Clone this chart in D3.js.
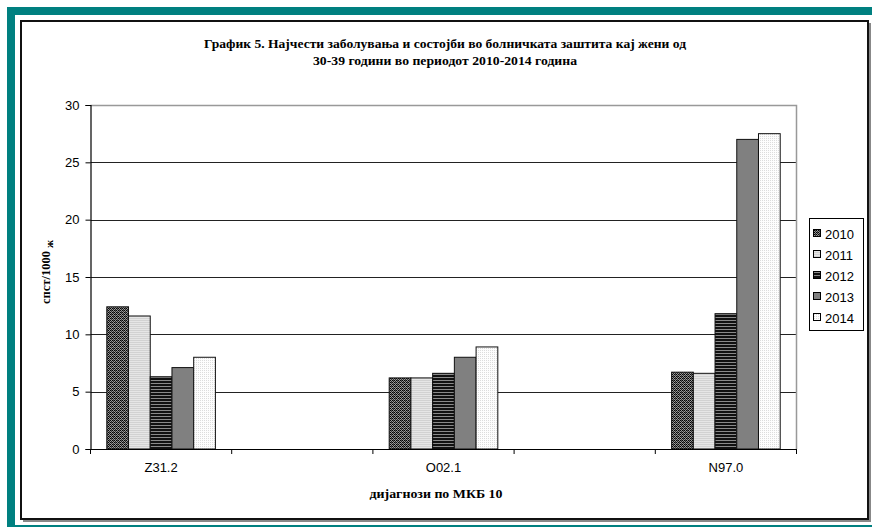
<!DOCTYPE html>
<html>
<head>
<meta charset="utf-8">
<script src="https://cdn.jsdelivr.net/npm/d3@7"></script>
<style>
  html, body { margin: 0; padding: 0; background: #fff; }
  svg { display: block; }
</style>
</head>
<body>
<svg id="chart" width="872" height="527"></svg>
<script>
// Categories on the x axis (Excel-style blank slots between the diagnoses)
const categories = ["Z31.2", "", "O02.1", "", "N97.0"];
const years = ["2010", "2011", "2012", "2013", "2014"];

// Rate per 1000 women, one array per year, aligned with categories
const v2010 = [12.4, null, 6.2, null, 6.7];
const v2011 = [11.6, null, 6.2, null, 6.6];
const v2012 = [6.3, null, 6.6, null, 11.8];
const v2013 = [7.1, null, 8.0, null, 27.0];
const v2014 = [8.0, null, 8.9, null, 27.5];
const seriesValues = [v2010, v2011, v2012, v2013, v2014];

const yTicks = [0, 5, 10, 15, 20, 25, 30];

const titleLines = [
  "График 5. Најчести заболувања и состојби во болничката заштита кај жени од",
  "30-39 години во периодот 2010-2014 година"
];
const yTitle = "спст/1000";
const yTitleSub = "ж";
const xTitle = "дијагнози по МКБ 10";

const svg = d3.select("#chart");
const defs = svg.append("defs");

// Fill patterns for the five series
function pattern(id, w, h, bg, cells) {
  const p = defs.append("pattern").attr("id", id)
    .attr("patternUnits", "userSpaceOnUse").attr("width", w).attr("height", h);
  p.append("rect").attr("width", w).attr("height", h).attr("fill", bg);
  cells.forEach(c => p.append("rect").attr("x", c[0]).attr("y", c[1])
    .attr("width", c[2]).attr("height", c[3]).attr("fill", c[4]));
}
pattern("p2010", 4, 4, "#9a9a9a", [[0,0,1,1,"#000"],[2,0,1,1,"#000"],[1,1,1,1,"#222"],[3,1,1,1,"#222"],[0,2,1,1,"#000"],[2,2,1,1,"#000"],[1,3,1,1,"#333"],[3,3,1,1,"#333"],[1,0,1,1,"#555"],[3,2,1,1,"#555"]]);
pattern("p2011", 2, 2, "#e6e6e6", [[0,0,2,1,"#d2d2d2"]]);
pattern("p2012", 3, 3, "#111", [[0,2,3,1,"#8a8a8a"]]);
pattern("p2013", 2, 2, "#808080", []);
pattern("p2014", 2, 2, "#fdfdfd", [[0,0,1,1,"#dcdcdc"]]);
const fills = years.map(y => `url(#p${y})`);

// Page frame: teal bands and black chart border with shadow
const teal = "#008080";
svg.append("rect").attr("x", 7).attr("y", 7).attr("width", 865).attr("height", 8).attr("fill", teal);
svg.append("rect").attr("x", 7).attr("y", 7).attr("width", 8).attr("height", 520).attr("fill", teal);
svg.append("rect").attr("x", 15).attr("y", 525).attr("width", 857).attr("height", 2).attr("fill", teal);
svg.append("rect").attr("x", 23).attr("y", 23).attr("width", 848).attr("height", 499).attr("fill", "#888");
svg.append("rect").attr("x", 21).attr("y", 21).attr("width", 847).attr("height", 498)
  .attr("fill", "#fff").attr("stroke", "#111").attr("stroke-width", 2);

// Plot area
const plotL = 90.5, plotR = 796.5, plotT = 105, plotB = 449;
const x0 = d3.scaleBand().domain(d3.range(categories.length)).range([plotL, plotR]).padding(0);
const bw = x0.bandwidth();
const barW = bw / 6.5;
const x1 = d3.scaleBand().domain(years).range([0.75 * barW, 5.75 * barW]).padding(0);
const y = d3.scaleLinear().domain([0, 30]).range([plotB, plotT]);

// Gridlines
svg.append("g").selectAll("line").data(yTicks.filter(t => t > 0 && t < 30)).join("line")
  .attr("x1", plotL).attr("x2", plotR)
  .attr("y1", d => Math.round(y(d)) + 0.5).attr("y2", d => Math.round(y(d)) + 0.5)
  .attr("stroke", "#222").attr("stroke-width", 1);
// Plot area top and right border
svg.append("path")
  .attr("d", `M${plotL},${plotT + 0.5}H${plotR}V${plotB}`)
  .attr("fill", "none").attr("stroke", "#999").attr("stroke-width", 1.5);

// Bars
const gBars = svg.append("g");
seriesValues.forEach((vals, si) => {
  gBars.append("g").selectAll("rect")
    .data(vals.map((v, ci) => ({ v, ci })).filter(d => d.v != null))
    .join("rect")
    .attr("x", d => x0(d.ci) + x1(years[si]))
    .attr("y", d => y(d.v))
    .attr("width", x1.bandwidth())
    .attr("height", d => plotB - y(d.v))
    .attr("fill", fills[si])
    .attr("stroke", "#111").attr("stroke-width", 1);
});

// Y axis
const yAxis = d3.axisLeft(y).tickValues(yTicks).tickSize(5).tickPadding(6);
const gy = svg.append("g").attr("transform", `translate(${plotL},0)`).call(yAxis);
gy.select(".domain").attr("stroke", "#000").attr("stroke-width", 1.2);
gy.selectAll(".tick line").attr("stroke", "#000");
gy.selectAll(".tick text").attr("font-family", "Liberation Sans, Arial, sans-serif")
  .attr("font-size", 13).attr("fill", "#000");

// X axis: ticks at category boundaries
svg.append("line").attr("x1", plotL).attr("x2", plotR).attr("y1", plotB + 0.5).attr("y2", plotB + 0.5)
  .attr("stroke", "#000").attr("stroke-width", 1.2);
const bounds = d3.range(categories.length + 1).map(i => i < categories.length ? x0(i) : plotR);
svg.append("g").selectAll("line").data(bounds).join("line")
  .attr("x1", d => d).attr("x2", d => d).attr("y1", plotB).attr("y2", plotB + 5)
  .attr("stroke", "#000");
svg.append("g").selectAll("text").data(categories.map((c, i) => ({ c, i })).filter(d => d.c)).join("text")
  .attr("x", d => x0(d.i) + bw / 2).attr("y", 472)
  .attr("text-anchor", "middle")
  .attr("font-family", "Liberation Sans, Arial, sans-serif").attr("font-size", 13)
  .text(d => d.c);

// Titles
const serif = "Liberation Serif, Times New Roman, serif";
const tWidths = [482, 264];
svg.append("g").selectAll("text").data(titleLines).join("text")
  .attr("x", 445).attr("y", (d, i) => 48 + i * 17)
  .attr("text-anchor", "middle")
  .attr("font-family", serif).attr("font-weight", "bold").attr("font-size", 12)
  .attr("textLength", (d, i) => tWidths[i]).attr("lengthAdjust", "spacingAndGlyphs")
  .text(d => d);

svg.append("text").attr("x", 436).attr("y", 498).attr("text-anchor", "middle")
  .attr("font-family", serif).attr("font-weight", "bold").attr("font-size", 12)
  .attr("textLength", 133).attr("lengthAdjust", "spacingAndGlyphs")
  .text(xTitle);

const yt = svg.append("text")
  .attr("transform", "translate(50,272) rotate(-90)")
  .attr("text-anchor", "middle")
  .attr("font-family", serif).attr("font-weight", "bold").attr("font-size", 12.5);
yt.append("tspan").text(yTitle);
yt.append("tspan").attr("dx", 3).attr("dy", 3).attr("font-size", 11).text(yTitleSub);

// Legend
const lg = svg.append("g");
lg.append("rect").attr("x", 809.5).attr("y", 218.5).attr("width", 54).attr("height", 112)
  .attr("fill", "#fff").attr("stroke", "#000").attr("stroke-width", 1);
years.forEach((yr, i) => {
  const cy = 234 + i * 21;
  lg.append("rect").attr("x", 813.5).attr("y", cy - 4.5).attr("width", 7).attr("height", 7)
    .attr("fill", fills[i]).attr("stroke", "#000").attr("stroke-width", 1);
  lg.append("text").attr("x", 825).attr("y", cy + 4.5)
    .attr("font-family", "Liberation Sans, Arial, sans-serif").attr("font-size", 13)
    .text(yr);
});
</script>
</body>
</html>
